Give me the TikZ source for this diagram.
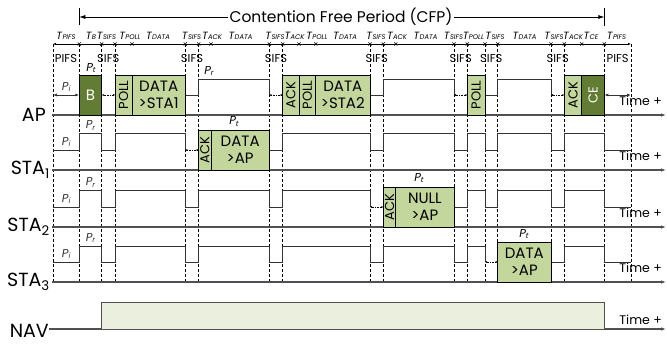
\documentclass[tikz,border=0pt]{standalone}
\usepackage{fontspec}
\setmainfont{Poppins}
\usetikzlibrary{positioning}
\usetikzlibrary{arrows.meta}
\usetikzlibrary{calc}

\definecolor{pktlight}{RGB}{195,214,155}
\definecolor{pktdark}{RGB}{98,124,52}
\definecolor{navfill}{RGB}{235,239,222}
\definecolor{axisgray}{RGB}{80,80,80}

\newcommand{\tlab}[1]{\textit{T}\raisebox{-0.6pt}{\fontsize{6.8}{7}\selectfont\itshape #1}}
\newcommand{\plab}[1]{\textit{P}\raisebox{-1.5pt}{\fontsize{7.5}{8}\selectfont\itshape #1}}

\tikzset{
  guide/.style={black, line width=0.5pt, dash pattern=on 3pt off 2pt},
  axisline/.style={axisgray, line width=1.1pt, -{Latex[length=5pt,width=3.5pt]}},
  wave/.style={black!80, line width=0.8pt},
  pkt/.style={draw=black, line width=0.8pt, fill=pktlight},
  pktd/.style={draw=black, line width=0.8pt, fill=pktdark},
  gap/.style={black, line width=0.6pt, densely dotted, {Latex[length=2pt,width=2pt]}-{Latex[length=2pt,width=2pt]}},
  rowlabel/.style={font=\fontsize{19}{19}\selectfont, anchor=east, inner sep=0pt},
  boxtext/.style={font=\fontsize{15}{17}\selectfont, align=center, inner sep=0pt},
  vtext/.style={font=\fontsize{13}{13}\selectfont, rotate=90, inner sep=0pt},
  ifs/.style={font=\fontsize{11.5}{12}\selectfont, inner sep=0pt},
  plevel/.style={font=\fontsize{11.5}{12}\selectfont, inner sep=0pt},
  timelabel/.style={font=\fontsize{12.5}{13}\selectfont, anchor=base east, inner sep=0pt}
}

\begin{document}
\begin{tikzpicture}[x=1pt, y=-1pt]
  \useasboundingbox (0,0) rectangle (667,343);

  % contention free period
  \node[font=\fontsize{15.5}{16}\selectfont, inner sep=1.5pt] (cfp) at (341,17) {Contention Free Period (CFP)};
  \coordinate (cfpL) at (79.3,17);
  \coordinate (cfpR) at (604.3,17);
  \draw[line width=0.6pt] (79.3,8) -- (79.3,25);
  \draw[line width=0.6pt] (604.3,8) -- (604.3,26);
  \draw[line width=0.6pt, -{Latex[length=6pt,width=4pt]}] (cfp.west) -- (cfpL);
  \draw[line width=0.6pt, -{Latex[length=6pt,width=4pt]}] (cfp.east) -- (cfpR);

  % time ruler
  \coordinate (r0) at (53,44);
  \coordinate (r1) at (631,44);
  \draw[line width=0.6pt, {Latex[length=3pt,width=2.5pt]}-{Latex[length=3pt,width=2.5pt]}] (r0) -- (r1);
  \foreach \xx in {79.3,101.7,115,132,185.3,198.7,211,269.3,282.7,299,315.7,370,383.3,395.7,454,467.3,485,497.7,551,564.3,581.7,604.3}
    \draw[line width=0.5pt] (\xx,44) +(-1.6,-1.6) -- +(1.6,1.6) +(-1.6,1.6) -- +(1.6,-1.6);
  \foreach \xx/\lab [count=\k] in {66/PIFS,91/B,106.5/SIFS,130/POLL,158/DATA,191.5/SIFS,212/ACK,
      240.5/DATA,275/SIFS,294.5/ACK,317/POLL,345/DATA,376/SIFS,397/ACK,425.5/DATA,
      453.5/SIFS,473.5/POLL,495/SIFS,524.5/DATA,554/SIFS,573/ACK,591/CE,616.5/PIFS}
    \node[font=\fontsize{10.5}{11}\selectfont, inner sep=0pt] (t\k) at (\xx,36) {\tlab{\lab}};

  % dashed guides
  \foreach \xx in {53,79.3,101.7,115,185.3,198.7,269.3,282.7,370,383.3,454,467.3,485,497.7,551,564.3,604.3,631}
    \draw[guide] (\xx,44) -- (\xx,282);
  \foreach \xx/\lab [count=\k] in {66/PIFS,108.3/SIFS,192/SIFS,276/SIFS,376.7/SIFS,460.7/SIFS,491.3/SIFS,557.7/SIFS,617.7/PIFS}
    \node[ifs] (ifs\k) at (\xx,58) {\lab};

  % axes
  \foreach \yy/\lab/\nm/\xe in {115/AP/ap/46,170/STA\textsubscript{1}/sa/50,227/STA\textsubscript{2}/sb/50,282/STA\textsubscript{3}/sc/50} {
    \draw[axisline] (52,\yy) -- (666,\yy);
    \node[rowlabel] (\nm) at (\xe,\yy) {\lab};
    \node[timelabel] (time\nm) at (662,\yy-10) {Time +};
  }

  % AP
  \draw[wave, {Latex[length=4pt,width=3pt]}-{Latex[length=4pt,width=3pt]}] (53,95) -- node[plevel, above=3pt] (apPi) {\plab{i}} (79.3,95);
  \draw[gap] (101.7,95) -- (115,95);
  \draw[wave] (185.3,95) -- (198.7,95) -- (198.7,79) -- (269.3,79) -- (269.3,95);
  \draw[gap] (269.3,95) -- (282.7,95);
  \draw[wave] (370,95) -- (383.3,95) -- (383.3,79) -- (454,79) -- (454,95);
  \draw[gap] (454,95) -- (467.3,95);
  \draw[wave] (485,95) -- (497.7,95) -- (497.7,79) -- (551,79) -- (551,95);
  \draw[gap] (551,95) -- (564.3,95);
  \draw[wave, {Latex[length=4pt,width=3pt]}-{Latex[length=4pt,width=3pt]}] (604.3,95) -- (631,95);
  \node[plevel] (apPr) at (209,71) {\plab{r}};
  \node[plevel] (apPt) at (91,68) {\plab{t}};
  \path[pktd] (79.3,75) rectangle (101.7,115) node[midway, boxtext, text=white] (b) {B};
  \path[pkt] (115,75) rectangle (132,115) node[midway, vtext] (poll1) {POLL};
  \path[pkt] (132,75) rectangle (185.3,115) node[midway, boxtext] (data1) {DATA\\>STA1};
  \path[pkt] (282.7,75) rectangle (299,115) node[midway, vtext] (ack2) {ACK};
  \path[pkt] (299,75) rectangle (315.7,115) node[midway, vtext] (poll2) {POLL};
  \path[pkt] (315.7,75) rectangle (370,115) node[midway, boxtext] (data2) {DATA\\>STA2};
  \path[pkt] (467.3,75) rectangle (485,115) node[midway, vtext] (poll3) {POLL};
  \path[pkt] (564.3,75) rectangle (581.7,115) node[midway, vtext] (ack4) {ACK};
  \path[pktd] (581.7,75) rectangle (604.3,115) node[midway, vtext, text=white] (ce) {CE};

  % STA1
  \draw[wave] (53,150) -- node[plevel, above=3pt] (saPi) {\plab{i}} (79.3,150) -- (79.3,133.5) -- node[plevel, above=3pt] (saPr) {\plab{r}} (101.7,133.5) -- (101.7,150) -- (115,150)
    -- (115,133.5) -- (185.3,133.5) -- (185.3,150);
  \draw[gap] (185.3,150) -- (198.7,150);
  \draw[wave] (269.3,150) -- (282.7,150) -- (282.7,133.5) -- (370,133.5) -- (370,150) -- (383.3,150) -- (383.3,133.5)
    -- (454,133.5) -- (454,150) -- (467.3,150) -- (467.3,133.5) -- (485,133.5) -- (485,150) -- (497.7,150)
    -- (497.7,133.5) -- (551,133.5) -- (551,150) -- (564.3,150) -- (564.3,133.5) -- (604.3,133.5) -- (604.3,150) -- (631,150);
  \path[pkt] (198.7,130) rectangle (211,170) node[midway, vtext] (ack1) {ACK};
  \path[pkt] (211,130) rectangle (269.3,170) node[midway, boxtext] (dsa) {DATA\\>AP};
  \node[plevel] (saPt) at (234,121.5) {\plab{t}};

  % STA2
  \draw[wave] (53,207) -- node[plevel, above=3pt] (sbPi) {\plab{i}} (79.3,207) -- (79.3,190.7) -- node[plevel, above=3pt] (sbPr) {\plab{r}} (101.7,190.7) -- (101.7,207) -- (115,207)
    -- (115,190.7) -- (185.3,190.7) -- (185.3,207) -- (198.7,207) -- (198.7,190.7) -- (269.3,190.7) -- (269.3,207)
    -- (282.7,207) -- (282.7,190.7) -- (370,190.7) -- (370,207);
  \draw[gap] (370,207) -- (383.3,207);
  \draw[wave] (454,207) -- (467.3,207) -- (467.3,190.7) -- (485,190.7) -- (485,207) -- (497.7,207) -- (497.7,190.7)
    -- (551,190.7) -- (551,207) -- (564.3,207) -- (564.3,190.7) -- (604.3,190.7) -- (604.3,207) -- (631,207);
  \path[pkt] (383.3,187) rectangle (395.7,227) node[midway, vtext] (ack3) {ACK};
  \path[pkt] (395.7,187) rectangle (454,227) node[midway, boxtext] (dsb) {NULL\\>AP};
  \node[plevel] (sbPt) at (419,178) {\plab{t}};

  % STA3
  \draw[wave] (53,262) -- node[plevel, above=3pt] (scPi) {\plab{i}} (79.3,262) -- (79.3,246) -- node[plevel, above=3pt] (scPr) {\plab{r}} (101.7,246) -- (101.7,262) -- (115,262)
    -- (115,246) -- (185.3,246) -- (185.3,262) -- (198.7,262) -- (198.7,246) -- (269.3,246) -- (269.3,262)
    -- (282.7,262) -- (282.7,246) -- (370,246) -- (370,262) -- (383.3,262) -- (383.3,246) -- (454,246) -- (454,262)
    -- (467.3,262) -- (467.3,246) -- (485,246) -- (485,262);
  \draw[gap] (485,262) -- (497.7,262);
  \draw[wave] (551,262) -- (564.3,262) -- (564.3,246) -- (604.3,246) -- (604.3,262) -- (631,262);
  \path[pkt] (497.7,242) rectangle (551,282) node[midway, boxtext] (dsc) {DATA\\>AP};
  \node[plevel] (scPt) at (524,234) {\plab{t}};

  % NAV
  \draw[axisline] (49,329) -- (666,329);
  \node[rowlabel] (nav) at (49,331) {NAV};
  \node[timelabel] (timenav) at (662,324) {Time +};
  \path[fill=navfill] (101.7,302.7) rectangle (604.3,329);
  \draw[axisgray, line width=1.1pt] (101.7,329) -- (101.7,302.7) -- (604.3,302.7) -- (604.3,329);
\end{tikzpicture}
\end{document}
